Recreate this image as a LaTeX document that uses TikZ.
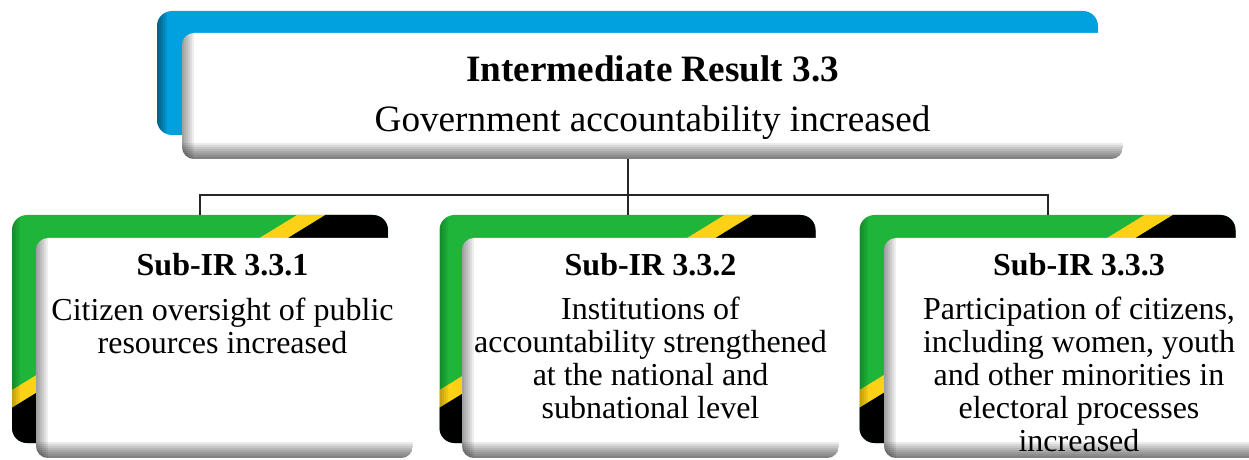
\documentclass[tikz,border=0pt]{standalone}
\usepackage{fontspec}
\setmainfont{Liberation Serif}

\definecolor{irblue}{RGB}{0,161,222}
\definecolor{tzgreen}{RGB}{30,181,58}
\definecolor{tzyellow}{RGB}{252,209,22}

\tikzset{
  panel/.style={rounded corners=7.5pt, inner sep=0pt, outer sep=0pt},
  blueback/.style={panel, fill=irblue, minimum width=470.5pt, minimum height=62pt,
    path picture={\foreach \k in {1,...,5}
      \fill[black, opacity=0.09, sharp corners]
        (path picture bounding box.south west) rectangle ([xshift=\k pt]path picture bounding box.north west);}},
  flagback/.style={panel, fill=tzgreen, minimum width=188pt, minimum height=114pt,
    path picture={
      \fill[black, sharp corners] ([xshift=156.5pt]path picture bounding box.north west)
        -- (path picture bounding box.north east) -- (path picture bounding box.south east)
        -- (path picture bounding box.south west) -- ([yshift=-96.25pt]path picture bounding box.north west) -- cycle;
      \fill[tzyellow, sharp corners] ([xshift=142.5pt]path picture bounding box.north west)
        -- ([xshift=156.5pt]path picture bounding box.north west)
        -- ([yshift=-96.25pt]path picture bounding box.north west)
        -- ([yshift=-87.5pt]path picture bounding box.north west) -- cycle;
      \foreach \k in {1,...,4}
        \fill[black, opacity=0.06, sharp corners]
          (path picture bounding box.south west) rectangle ([xshift=\k pt]path picture bounding box.north west);}},
  card/.style={fill=white, rounded corners=6pt, inner sep=0pt, outer sep=0pt,
    minimum width=188.5pt, minimum height=110pt,
    path picture={
      \foreach \k in {1,...,6}
        \fill[black, opacity=0.07, sharp corners]
          (path picture bounding box.south west) rectangle ([xshift=\k pt]path picture bounding box.north west);
      \foreach \k in {1,...,8}
        \fill[black, opacity=0.08, sharp corners]
          (path picture bounding box.south west) rectangle ([yshift=\k pt]path picture bounding box.south east);}},
  link/.style={draw=black!85, line width=1pt},
  bigtext/.style={anchor=base, font=\fontsize{18.6pt}{25pt}\selectfont},
  subhead/.style={anchor=base, font=\fontsize{16pt}{16.5pt}\selectfont\bfseries},
  subbody/.style={anchor=base, align=center, font=\fontsize{16pt}{16.5pt}\selectfont},
}

\begin{document}
\begin{tikzpicture}[x=0.5pt, y=-0.5pt]
\useasboundingbox (0,0) rectangle (1249,460);

% coloured panels behind the boxes
\node[blueback] (topback) at (627.5,73) {};
\node[flagback] (sub1back) at (200,329) {};
\node[flagback] (sub2back) at (627.5,329) {};
\node[flagback] (sub3back) at (1047.5,329) {};

% tree lines
\coordinate (bus) at (627.5,195);
\draw[link] (topback.south) -- (sub2back.north);
\draw[link] (sub1back.north) |- (bus) -| (sub3back.north);

% white boxes
\node[card, minimum width=470.5pt, minimum height=63pt] (top) at (652.5,96) {};
\node[card] (sub1) at (224.5,348) {};
\node[card] (sub2) at (650.5,348) {};
\node[card, minimum width=195pt] (sub3) at (1079,348) {};

\node[bigtext] (toptitle) at (652.5,82) {\bfseries Intermediate Result 3.3};
\node[bigtext] (toptext) at (652.5,132) {Government accountability increased};

% base of a multi-line node = its last line
\node[subhead] (sub1head) at (222.5,275) {Sub-IR 3.3.1};
\node[subbody] (sub1text) at (222.5,353) {Citizen oversight of public\\resources increased};

\node[subhead] (sub2head) at (650.5,275) {Sub-IR 3.3.2};
\node[subbody] (sub2text) at (650.5,418) {Institutions of\\accountability strengthened\\at the national and\\subnational level};

\node[subhead] (sub3head) at (1079,275) {Sub-IR 3.3.3};
\node[subbody] (sub3text) at (1079,451) {Participation of citizens,\\including women, youth\\and other minorities in\\electoral processes\\increased};
\end{tikzpicture}
\end{document}
